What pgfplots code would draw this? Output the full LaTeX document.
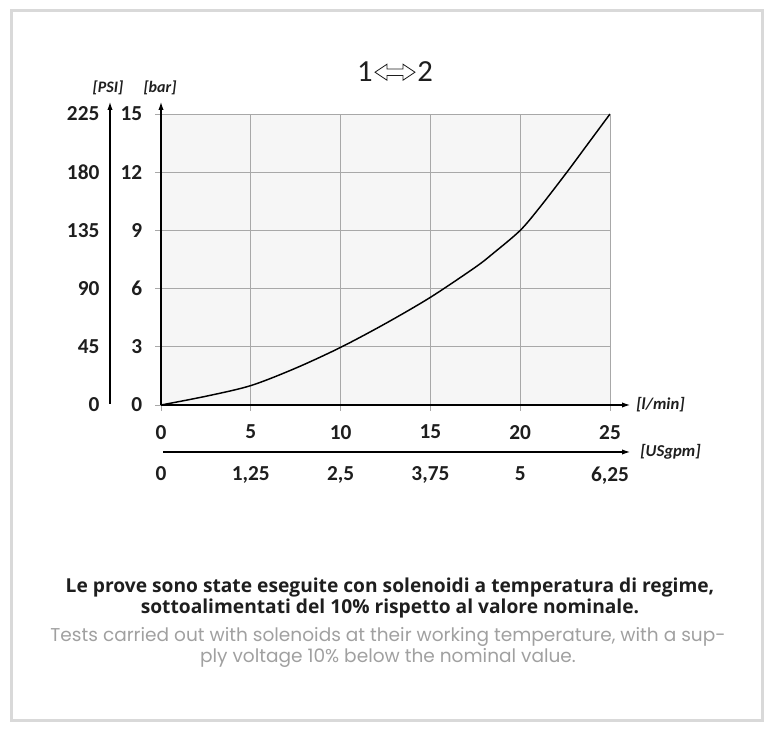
\documentclass[border=0pt]{standalone}
\usepackage{pgfplots}
\pgfplotsset{compat=1.18}
\usepackage{fontspec}
\setmainfont{Carlito}
\newfontfamily\boldtext{Open Sans}
\newfontfamily\graytext{Poppins}
\usetikzlibrary{arrows.meta}
\definecolor{gridc}{RGB}{168,168,168}
\definecolor{bgc}{RGB}{246,246,246}
\definecolor{framec}{RGB}{217,217,217}
\definecolor{grayt}{RGB}{160,160,160}
\definecolor{textc}{RGB}{30,30,30}
\pgfplotsset{every axis/.append style={/pgf/number format/assume math mode=true}}
\begin{document}
\begin{tikzpicture}
\useasboundingbox (0,0) rectangle (579.75pt,548.25pt);
% main axis (l/min vs bar)
\begin{axis}[
  at={(120.75pt,244.5pt)}, anchor=south west,
  scale only axis, width=336.75pt, height=218.25pt,
  xmin=0, xmax=25, ymin=0, ymax=15,
  xtick={0,5,...,25}, ytick={0,3,...,15},
  axis background/.style={fill=bgc},
  grid=major, grid style={gridc, line width=0.6pt},
  axis lines=left,
  axis line style={black, line width=0.8pt},
  x axis line style={-{Latex[length=6pt,width=4pt]}, shorten >=-15pt},
  y axis line style={-{Latex[length=6pt,width=4pt]}, shorten >=-9pt},
  tick align=outside, major tick length=4.5pt,
  tick style={gridc, line width=0.6pt},
  xticklabel style={font=\bfseries\fontsize{16}{18}\selectfont, text=textc, yshift=-7pt},
  yticklabel style={font=\bfseries\fontsize{16}{18}\selectfont, text=textc, xshift=-6pt},
]
\addplot[black, line width=1.1pt, smooth, tension=0.5] coordinates {
(0,0) (2.5,0.45) (5,1.0) (7.5,1.9) (10,2.97) (12.5,4.2)
(15,5.55) (17.5,7.1) (18.5,7.82) (20,9.0) (21.1,10.2) (22.6,12.0) (23.72,13.4) (25,15)};
\end{axis}
% PSI axis
\begin{axis}[
  at={(82.5pt,244.5pt)}, anchor=south west,
  scale only axis, width=1pt, height=218.25pt,
  xmin=0, xmax=1, ymin=0, ymax=225,
  xtick=\empty, ytick={0,45,...,225},
  axis y line=left, axis x line=none,
  axis line style={black, line width=0.8pt},
  y axis line style={-{Latex[length=6pt,width=4pt]}, shorten >=-9pt, shorten <=1pt},
  major tick length=0pt,
  yticklabel style={font=\bfseries\fontsize{16}{18}\selectfont, text=textc, xshift=-4.4pt},
]
\end{axis}
% USgpm axis
\begin{axis}[
  at={(120.75pt,209.25pt)}, anchor=south west,
  scale only axis, width=336.75pt, height=1pt,
  xmin=0, xmax=6.25, ymin=0, ymax=1,
  ytick=\empty, xtick={0,1.25,2.5,3.75,5,6.25},
  xticklabels={0,{1,25},{2,5},{3,75},5,{6,25}},
  axis x line=bottom, axis y line=none,
  axis line style={black, line width=0.8pt},
  x axis line style={-{Latex[length=6pt,width=4pt]}, shorten >=-15pt, shorten <=1.5pt},
  major tick length=0pt,
  xticklabel style={font=\bfseries\fontsize{16}{18}\selectfont, text=textc, yshift=-7.4pt},
]
\end{axis}
\begin{scope}[shift={(0,548.25pt)},x=0.75pt,y=-0.75pt]
\draw[framec,line width=2.25pt] (11,11) rectangle (762,720);
\node[font=\fontsize{23}{26}\selectfont, text=textc, inner sep=0pt] at (395,72) {1\hspace{1.5pt}\tikz[baseline={(0,-1.3pt)}]{\draw[textc, line width=0.6pt, x=1pt, y=1pt] (0,6) -- (9,12) -- (9,8.4) -- (21,8.4) -- (21,12) -- (30,6) -- (21,0) -- (21,3.6) -- (9,3.6) -- (9,0) -- cycle;}\hspace{1.5pt}2};
\node[font=\bfseries\itshape\fontsize{12}{14}\selectfont, text=textc] at (108,88) {[PSI]};
\node[font=\bfseries\itshape\fontsize{12}{14}\selectfont, text=textc] at (160,88) {[bar]};
\node[font=\bfseries\itshape\fontsize{12.5}{14}\selectfont, text=textc, anchor=west, inner sep=0pt] at (636,405) {[l/min]};
\node[font=\bfseries\itshape\fontsize{12.5}{14}\selectfont, text=textc, anchor=west, inner sep=0pt] at (640,452) {[USgpm]};
\node[font=\boldtext\bfseries\fontsize{14.4}{14.25}\selectfont, align=center, text=textc] at (390,598) {Le prove sono state eseguite con solenoidi a temperatura di regime,\\sottoalimentati del 10\% rispetto al valore nominale.};
\node[font=\graytext\fontsize{13.9}{15.75}\selectfont, align=center, text=grayt] at (388,647) {Tests carried out with solenoids at their working temperature, with a sup-\\ply voltage 10\% below the nominal value.};
\end{scope}
\end{tikzpicture}
\end{document}
